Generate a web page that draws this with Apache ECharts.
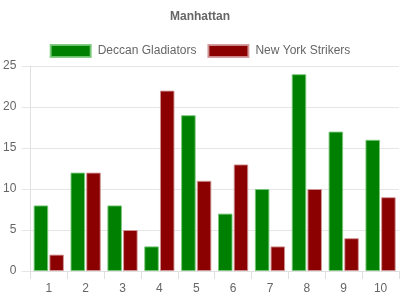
<!DOCTYPE html>
<html><head><meta charset="utf-8">
<script src="https://cdn.jsdelivr.net/npm/echarts@6/dist/echarts.min.js"></script>
<style>html,body{margin:0;padding:0;background:#fff}#c{width:400px;height:300px}</style>
</head><body><div id="c"></div>
<script>
const categories = ['1','2','3','4','5','6','7','8','9','10'];
const deccan = [8, 12, 8, 3, 19, 7, 10, 24, 17, 16];
const newYork = [2, 12, 5, 22, 11, 13, 3, 10, 4, 9];
const seriesNames = ['Deccan Gladiators', 'New York Strikers'];
const FONT = 'Arial, "Liberation Sans", Helvetica, sans-serif';
const chart = echarts.init(document.getElementById('c'), null, {renderer:'canvas'});
chart.setOption({
  animation: false,
  title: {text: 'Manhattan', left: 'center', top: 6, textStyle: {fontSize: 12, fontWeight: 'bold', color: '#666', fontFamily: FONT}},
  legend: {top: 39, left: 'center', itemWidth: 40, itemHeight: 12, itemGap: 11, icon: 'rect',
    textStyle: {fontSize: 12, color: '#666', fontFamily: FONT, padding: [0, 0, 0, 2]},
    data: seriesNames},
  grid: {left: 29, right: 1, top: 66, bottom: 29, containLabel: false},
  xAxis: {type: 'category', data: categories,
    axisLine: {lineStyle: {color: '#e0e0e0'}},
    axisTick: {show: true, length: 8, lineStyle: {color: '#e0e0e0'}},
    axisLabel: {color: '#666', fontSize: 12, fontFamily: FONT, margin: 12}},
  yAxis: {type: 'value', min: 0, max: 25, interval: 5,
    axisLine: {show: true, lineStyle: {color: '#e0e0e0'}},
    axisTick: {show: true, length: 9, lineStyle: {color: '#e6e6e6'}},
    splitLine: {lineStyle: {color: '#e6e6e6'}},
    axisLabel: {color: '#666', fontSize: 12, fontFamily: FONT, margin: 14}},
  series: [
    {name: seriesNames[0], type: 'bar', data: deccan, barGap: '8%', barCategoryGap: '18%',
     itemStyle: {color: '#008000', borderColor: 'rgba(120,200,120,0.9)', borderWidth: 1}},
    {name: seriesNames[1], type: 'bar', data: newYork,
     itemStyle: {color: '#8b0000', borderColor: 'rgba(210,150,150,0.9)', borderWidth: 1}}
  ]
});
</script></body></html>
